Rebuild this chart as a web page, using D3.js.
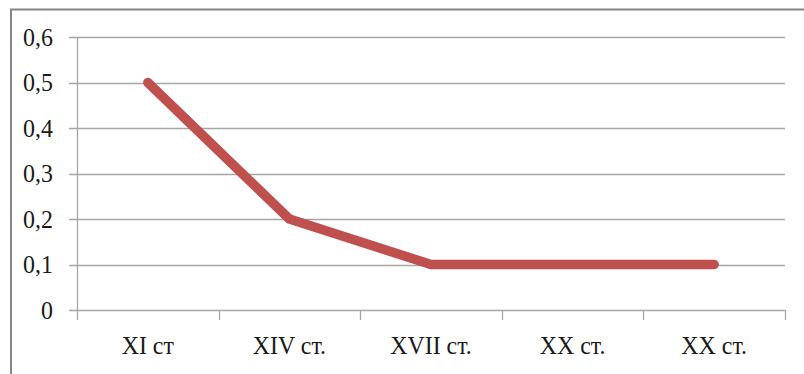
<!DOCTYPE html>
<html><head><meta charset="utf-8">
<script src="https://cdn.jsdelivr.net/npm/d3@7"></script>
<style>body{margin:0;background:#fff}svg{display:block}</style>
</head><body>
<svg id="c" width="804" height="374"></svg>
<script>
const categories = ["XI ст", "XIV ст.", "XVII ст.", "XX ст.", "XX ст."];
const values = [0.5, 0.2, 0.1, 0.1, 0.1];
const yTicks = [0, 0.1, 0.2, 0.3, 0.4, 0.5, 0.6];
const yTickLabels = ["0", "0,1", "0,2", "0,3", "0,4", "0,5", "0,6"];

const svg = d3.select("#c");
const L = 77, R = 785, T = 37, B = 310;
const x = d3.scaleBand().domain(d3.range(categories.length)).range([L, R]);
const y = d3.scaleLinear().domain([0, 0.6]).range([B, T]);

// outer frame
svg.append("path").attr("d", `M11,374 L11,9.5 L804,9.5`).attr("fill","none").attr("stroke","#868686").attr("stroke-width",2);

const grid = "#a6a6a6";
svg.append("g").selectAll("line").data(yTicks).join("line")
  .attr("x1", L - 8).attr("x2", R)
  .attr("y1", d => Math.round(y(d)) + 0.5).attr("y2", d => Math.round(y(d)) + 0.5)
  .attr("stroke", grid).attr("stroke-width", 1.3);
svg.append("line").attr("x1", L + 0.5).attr("x2", L + 0.5).attr("y1", T).attr("y2", B)
  .attr("stroke", grid).attr("stroke-width", 1.3);
const bounds = d3.range(categories.length + 1).map(i => i < categories.length ? x(i) : R);
svg.append("g").selectAll("line").data(bounds).join("line")
  .attr("x1", d => Math.round(d) + 0.5).attr("x2", d => Math.round(d) + 0.5)
  .attr("y1", B).attr("y2", B + 10)
  .attr("stroke", grid).attr("stroke-width", 1.3);

const font = "'Liberation Serif', 'Times New Roman', serif";
svg.append("g").selectAll("text").data(yTicks).join("text")
  .attr("transform", d => `translate(53,${y(d) + 8.5}) scale(0.92,1)`)
  .attr("text-anchor", "end").attr("font-family", font).attr("font-size", 26)
  .attr("fill", "#1a1a1a").text((d, i) => yTickLabels[i]);

svg.append("g").selectAll("text").data(categories).join("text")
  .attr("transform", (d, i) => `translate(${x(i) + x.bandwidth() / 2},354) scale(0.92,1)`)
  .attr("text-anchor", "middle").attr("font-family", font).attr("font-size", 26)
  .attr("fill", "#1a1a1a").text(d => d);

const line = d3.line().x((d, i) => x(i) + x.bandwidth() / 2).y(d => y(d));
svg.append("path").datum(values).attr("d", line)
  .attr("fill", "none").attr("stroke", "#c0504d").attr("stroke-width", 9.5)
  .attr("stroke-linecap", "round").attr("stroke-linejoin", "round");
</script>
</body></html>
